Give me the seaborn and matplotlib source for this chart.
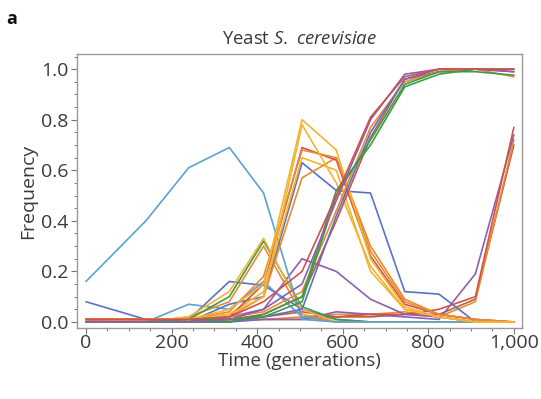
import numpy as np
import pandas as pd
import matplotlib
matplotlib.use("Agg")
import matplotlib.pyplot as plt
from matplotlib.ticker import MultipleLocator, FixedLocator, FixedFormatter
import seaborn as sns

sns.set_theme(style="white")
plt.rcParams['font.family'] = ['Open Sans', 'DejaVu Sans']
plt.rcParams['mathtext.fontset'] = 'custom'
plt.rcParams['mathtext.rm'] = 'Open Sans'
plt.rcParams['mathtext.it'] = 'Open Sans:italic'

# ---- data ----
times = [0, 140, 240, 335, 415, 505, 585, 665, 745, 825, 910, 1000]

fix_red1    = [0.01, 0.01, 0.01, 0.02, 0.08, 0.20, 0.50, 0.81, 0.97, 1.00, 1.00, 1.00]
fix_purple  = [0.00, 0.00, 0.00, 0.01, 0.05, 0.15, 0.48, 0.80, 0.98, 1.00, 1.00, 0.99]
fix_green1  = [0.00, 0.00, 0.00, 0.00, 0.03, 0.10, 0.52, 0.70, 0.93, 0.98, 1.00, 1.00]
fix_green2  = [0.00, 0.00, 0.01, 0.01, 0.02, 0.08, 0.50, 0.72, 0.94, 0.99, 0.99, 0.976]
fix_blue    = [0.00, 0.00, 0.00, 0.00, 0.02, 0.05, 0.42, 0.75, 0.96, 1.00, 1.00, 1.00]
fix_orange  = [0.01, 0.01, 0.01, 0.02, 0.04, 0.12, 0.44, 0.77, 0.95, 0.99, 1.00, 0.97]
fix_red2    = [0.01, 0.01, 0.00, 0.01, 0.03, 0.10, 0.40, 0.73, 0.96, 0.99, 1.00, 0.99]

rf_yellow1  = [0.00, 0.01, 0.01, 0.05, 0.15, 0.80, 0.68, 0.25, 0.06, 0.02, 0.00, 0.00]
rf_yellow2  = [0.00, 0.00, 0.01, 0.03, 0.10, 0.78, 0.55, 0.22, 0.05, 0.02, 0.00, 0.00]
rf_orange1  = [0.01, 0.01, 0.01, 0.04, 0.18, 0.68, 0.65, 0.28, 0.08, 0.03, 0.01, 0.00]
rf_red      = [0.01, 0.01, 0.00, 0.02, 0.15, 0.69, 0.64, 0.26, 0.07, 0.03, 0.01, 0.00]
rf_orange2  = [0.00, 0.00, 0.01, 0.02, 0.10, 0.57, 0.65, 0.30, 0.09, 0.03, 0.01, 0.00]
rf_yellow3  = [0.00, 0.00, 0.01, 0.03, 0.12, 0.65, 0.60, 0.20, 0.05, 0.02, 0.00, 0.00]
rf_blue     = [0.08, 0.01, 0.00, 0.07, 0.10, 0.63, 0.52, 0.51, 0.12, 0.11, 0.00, 0.00]

early_yellow = [0.00, 0.00, 0.02, 0.12, 0.33, 0.05, 0.00, 0.00, 0.00, 0.00, 0.00, 0.00]
early_green  = [0.00, 0.00, 0.01, 0.10, 0.32, 0.06, 0.01, 0.00, 0.00, 0.00, 0.00, 0.00]
early_orange = [0.01, 0.00, 0.02, 0.08, 0.30, 0.03, 0.00, 0.00, 0.00, 0.00, 0.00, 0.00]
early_ltblue = [0.16, 0.40, 0.61, 0.69, 0.51, 0.01, 0.00, 0.00, 0.00, 0.00, 0.00, 0.00]
small_blue1  = [0.00, 0.00, 0.01, 0.16, 0.145, 0.05, 0.01, 0.00, 0.00, 0.00, 0.00, 0.00]
small_blue2  = [0.00, 0.00, 0.07, 0.05, 0.16, 0.02, 0.00, 0.00, 0.00, 0.00, 0.00, 0.00]
mid_purple   = [0.00, 0.00, 0.00, 0.02, 0.05, 0.25, 0.20, 0.09, 0.03, 0.02, 0.00, 0.00]

late_purple  = [0.00, 0.00, 0.00, 0.00, 0.01, 0.01, 0.04, 0.03, 0.02, 0.01, 0.19, 0.74]
late_red     = [0.01, 0.01, 0.01, 0.01, 0.02, 0.04, 0.02, 0.03, 0.03, 0.05, 0.10, 0.77]
late_orange  = [0.00, 0.01, 0.01, 0.01, 0.01, 0.02, 0.03, 0.03, 0.04, 0.02, 0.08, 0.72]
late_brown   = [0.01, 0.00, 0.00, 0.01, 0.01, 0.01, 0.02, 0.02, 0.03, 0.03, 0.09, 0.70]

x_ticks = [0, 200, 400, 600, 800, 1000]
x_ticklabels = ["0", "200", "400", "600", "800", "1,000"]
y_ticks = [0.0, 0.2, 0.4, 0.6, 0.8, 1.0]
y_ticklabels = ["0.0", "0.2", "0.4", "0.6", "0.8", "1.0"]

C = {"red": "#d4504a", "purple": "#8c5fb0", "green": "#3f9a4a", "blue": "#5a72c4",
     "orange": "#ec8a32", "yellow": "#f2b431", "ltblue": "#5aa2d2", "brown": "#b8623c"}

series = [
    ("late_brown", late_brown, C["brown"]),
    ("late_orange", late_orange, C["orange"]),
    ("late_purple", late_purple, C["purple"]),
    ("late_red", late_red, C["red"]),
    ("small_blue1", small_blue1, C["blue"]),
    ("small_blue2", small_blue2, C["ltblue"]),
    ("mid_purple", mid_purple, C["purple"]),
    ("early_orange", early_orange, C["orange"]),
    ("early_green", early_green, C["green"]),
    ("early_yellow", early_yellow, C["yellow"]),
    ("early_ltblue", early_ltblue, C["ltblue"]),
    ("rf_blue", rf_blue, C["blue"]),
    ("rf_yellow3", rf_yellow3, C["yellow"]),
    ("rf_orange2", rf_orange2, C["orange"]),
    ("rf_red", rf_red, C["red"]),
    ("rf_orange1", rf_orange1, C["orange"]),
    ("rf_yellow2", rf_yellow2, C["yellow"]),
    ("rf_yellow1", rf_yellow1, C["yellow"]),
    ("fix_red2", fix_red2, C["red"]),
    ("fix_orange", fix_orange, C["orange"]),
    ("fix_blue", fix_blue, C["blue"]),
    ("fix_green2", fix_green2, C["green"]),
    ("fix_green1", fix_green1, C["green"]),
    ("fix_purple", fix_purple, C["purple"]),
    ("fix_red1", fix_red1, C["red"]),
]

rows = []
for name, vals, col in series:
    for t, v in zip(times, vals):
        rows.append({"series": name, "time": t, "freq": v})
df = pd.DataFrame(rows)
palette = {name: col for name, _, col in series}

fig = plt.figure(figsize=(5.41, 3.99), dpi=100)
ax = fig.add_axes([0.1423, 0.1779, 0.8226, 0.6868])
sns.lineplot(data=df, x="time", y="freq", hue="series", palette=palette,
             estimator=None, sort=False, linewidth=1.2, legend=False, ax=ax,
             hue_order=[s[0] for s in series])

ax.set_xlim(-21, 1019)
ax.set_ylim(-0.024, 1.06)
ax.xaxis.set_major_locator(FixedLocator(x_ticks))
ax.xaxis.set_major_formatter(FixedFormatter(x_ticklabels))
ax.yaxis.set_major_locator(FixedLocator(y_ticks))
ax.yaxis.set_major_formatter(FixedFormatter(y_ticklabels))
ax.xaxis.set_minor_locator(MultipleLocator(50))
ax.yaxis.set_minor_locator(MultipleLocator(0.05))
ax.tick_params(which="both", direction="out", color="#777777", labelcolor="#3a3a3a",
               bottom=True, left=True)
ax.tick_params(which="major", length=4, width=0.8, labelsize=14, pad=0)
ax.tick_params(which="minor", length=2.5, width=0.7)
ax.tick_params(axis="y", which="major", pad=2)
for sp in ax.spines.values():
    sp.set_color("#999999")
    sp.set_linewidth(1.0)

ax.set_xlabel("Time (generations)", fontsize=13.5, color="#3a3a3a", labelpad=0)
ax.set_ylabel("Frequency", fontsize=14, color="#3a3a3a", labelpad=3)
ax.set_title(r"Yeast $S.\ cerevisiae$", fontsize=13.3, color="#3a3a3a", pad=7)
fig.text(0.012, 0.975, "a", fontsize=13, fontweight="bold", color="#111111", va="top", ha="left")

fig.savefig("out.png", dpi=100, facecolor="white")
